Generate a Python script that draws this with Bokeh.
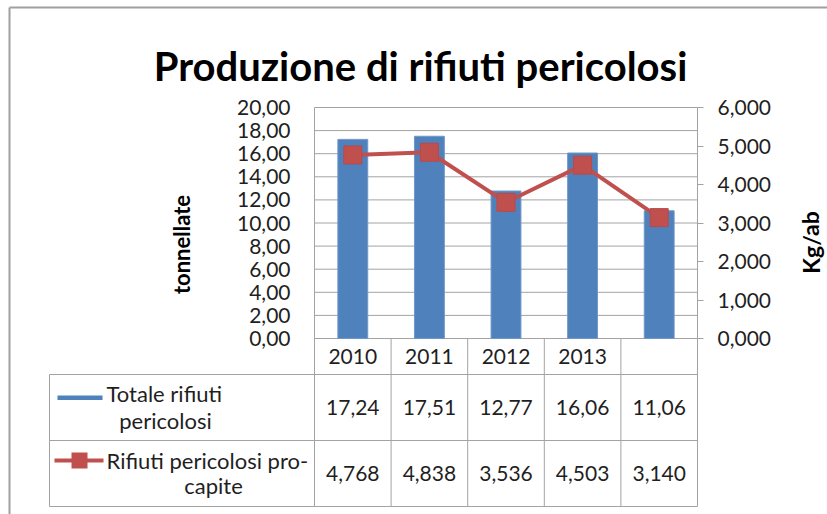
from bokeh.plotting import figure
from bokeh.models import Range1d, LinearAxis, FixedTicker, ColumnDataSource
from bokeh.embed import file_html
from bokeh.resources import INLINE
from bokeh.core.properties import value

# ---------------- data ----------------
title_text = "Produzione di rifiuti pericolosi"
years = ["2010", "2011", "2012", "2013", ""]
totale = [17.24, 17.51, 12.77, 16.06, 11.06]
procapite = [4.768, 4.838, 3.536, 4.503, 3.140]
left_ticks = [0, 2, 4, 6, 8, 10, 12, 14, 16, 18, 20]
left_tick_labels = ["0,00", "2,00", "4,00", "6,00", "8,00", "10,00", "12,00", "14,00", "16,00", "18,00", "20,00"]
right_ticks = [0, 1, 2, 3, 4, 5, 6]
right_tick_labels = ["0,000", "1,000", "2,000", "3,000", "4,000", "5,000", "6,000"]
series_lines = [["Totale rifiuti", "pericolosi"], ["Rifiuti pericolosi pro-", "capite"]]
left_axis_title = "tonnellate"
right_axis_title = "Kg/ab"

# ---------------- layout (pixel positions on the canvas) ----------------
W, H = 827, 514
PL, PR = 314, 697          # plot area left / right
PT, Y0 = 107, 338          # plot area top (value 20) / zero line
LEFT_MAX, RIGHT_MAX = 20.0, 6.0
NCAT = len(years)
PPC = (PR - PL) / NCAT
PPU = (Y0 - PT) / LEFT_MAX
FONT = "Lato"
TXT = "#1f1f1f"
GRID = "#a3a3a3"
BLUE = "#4F81BD"
RED = "#C0504D"
ROW_EDGES = [374, 440, 506]     # table row bottoms
ROW_CENTERS = [356, 407, 473]
LEG_LEFT = 49


def yd(py):
    return (Y0 - py) / PPU


def xd(px):
    return (px - PL) / PPC


xs = [i + 0.5 for i in range(NCAT)]
tbl_bottom = yd(ROW_EDGES[-1])

p = figure(width=W, height=H, output_backend="svg", toolbar_location=None,
           x_range=Range1d(xd(0), xd(W)), y_range=Range1d(yd(H), yd(0)),
           x_axis_location=None, min_border=0,
           background_fill_color="white", border_fill_color="white")
p.outline_line_color = None
p.grid.visible = False
p.extra_y_ranges = {"right": Range1d(yd(H) * RIGHT_MAX / LEFT_MAX, yd(0) * RIGHT_MAX / LEFT_MAX)}

# left axis (drawn at the plot's left edge)
ya = p.yaxis[0]
ya.fixed_location = 0
ya.bounds = (0, LEFT_MAX)
ya.ticker = FixedTicker(ticks=left_ticks)
ya.major_label_overrides = dict(zip(left_ticks, left_tick_labels))
ya.axis_line_color = None
ya.major_tick_line_color = None
ya.major_tick_out = 0
ya.minor_tick_line_color = None
ya.major_label_standoff = 24
ya.major_label_text_font = FONT
ya.major_label_text_font_size = "21px"
ya.major_label_text_color = TXT

# right axis (drawn at the plot's right edge)
ra = LinearAxis(y_range_name="right", ticker=FixedTicker(ticks=right_ticks), fixed_location=NCAT,
                bounds=(0, RIGHT_MAX))
ra.major_label_overrides = dict(zip(right_ticks, right_tick_labels))
ra.axis_line_color = GRID
ra.major_tick_line_color = GRID
ra.major_tick_in = 0
ra.major_tick_out = 6
ra.minor_tick_line_color = None
ra.major_label_standoff = 14
ra.major_label_text_font = FONT
ra.major_label_text_font_size = "21px"
ra.major_label_text_color = TXT
p.add_layout(ra, "right")

# outer chart border
p.segment(x0=[xd(9), xd(9)], y0=[yd(7), yd(7)], x1=[xd(9), xd(W + 5)], y1=[yd(H + 5), yd(7)],
          line_color="#a0a0a0", line_width=2)

# horizontal gridlines of the plot area
p.segment(x0=[0] * len(left_ticks), x1=[NCAT] * len(left_ticks), y0=left_ticks, y1=left_ticks,
          line_color=GRID, line_width=1)

# bars and line
src = ColumnDataSource(dict(x=xs, totale=totale, procapite=procapite))
p.vbar(x="x", top="totale", width=0.39, source=src, fill_color=BLUE, line_color="#6f97c9", line_width=1)
p.line(x="x", y="procapite", source=src, y_range_name="right", line_color=RED, line_width=4)
p.scatter(x="x", y="procapite", source=src, y_range_name="right", marker="square", size=18,
          fill_color=RED, line_color="#b9494a")

# table lines
p.segment(x0=[0, NCAT], x1=[0, NCAT], y0=[LEFT_MAX, LEFT_MAX], y1=[tbl_bottom, tbl_bottom],
          line_color=GRID, line_width=1)
inner = list(range(1, NCAT))
p.segment(x0=inner, x1=inner, y0=[0] * len(inner), y1=[tbl_bottom] * len(inner), line_color=GRID, line_width=1)
p.segment(x0=[xd(LEG_LEFT)] * 3, x1=[NCAT] * 3, y0=[yd(r) for r in ROW_EDGES], y1=[yd(r) for r in ROW_EDGES],
          line_color=GRID, line_width=1)
p.segment(x0=[xd(LEG_LEFT)], x1=[xd(LEG_LEFT)], y0=[yd(ROW_EDGES[0])], y1=[tbl_bottom],
          line_color=GRID, line_width=1)

# table texts
tbl = ColumnDataSource(dict(
    x=xs * 3,
    y=[yd(ROW_CENTERS[0])] * NCAT + [yd(ROW_CENTERS[1])] * NCAT + [yd(ROW_CENTERS[2])] * NCAT,
    t=years + [f"{v:.2f}".replace(".", ",") for v in totale] + [f"{v:.3f}".replace(".", ",") for v in procapite],
))
p.text(x="x", y="y", text="t", source=tbl, text_align="center", text_baseline="middle",
       text_font=value(FONT), text_font_size="21px", text_color=TXT)

# legend keys in the table
p.quad(left=[xd(57)], right=[xd(102)], top=[yd(395)], bottom=[yd(399.5)], fill_color=BLUE, line_color=None)
p.quad(left=[xd(54)], right=[xd(103)], top=[yd(458)], bottom=[yd(462)], fill_color=RED, line_color=None)
p.quad(left=[xd(71)], right=[xd(87)], top=[yd(452)], bottom=[yd(468)], fill_color=RED, line_color=None)

# legend texts
leg = ColumnDataSource(dict(
    x=[xd(106), xd(165), xd(106), xd(213)],
    y=[yd(393), yd(420), yd(460), yd(485)],
    t=[series_lines[0][0], series_lines[0][1], series_lines[1][0], series_lines[1][1]],
    a=["left", "center", "left", "center"],
))
p.text(x="x", y="y", text="t", source=leg, text_align="a", text_baseline="middle",
       text_font=value(FONT), text_font_size="22px", text_color=TXT)

# title and axis titles
p.text(x=[xd(420)], y=[yd(65)], text=[title_text], text_align="center", text_baseline="alphabetic",
       text_font=value(FONT), text_font_size="40px", text_font_style="bold", text_color="black")
p.text(x=[xd(181)], y=[yd(244)], text=[left_axis_title], angle=1.5708, text_align="center",
       text_baseline="middle", text_font=value(FONT), text_font_size="22px",
       text_font_style="bold", text_color="black")
p.text(x=[xd(810)], y=[yd(242)], text=[right_axis_title], angle=1.5708, text_align="center",
       text_baseline="middle", text_font=value(FONT), text_font_size="23px",
       text_font_style="bold", text_color="black")

open("out.html", "w").write(file_html(p, INLINE))
